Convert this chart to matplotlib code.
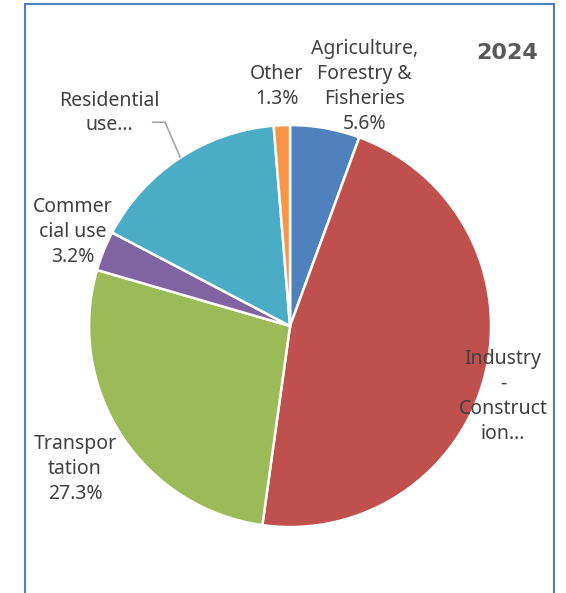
import numpy as np
import matplotlib.pyplot as plt
from matplotlib.patches import Rectangle

plt.rcParams['font.family'] = ['Noto Sans', 'DejaVu Sans']

sectors = ['Agriculture,\nForestry &\nFisheries', 'Industry\n-\nConstruct\nion…',
           'Transpor\ntation', 'Commer\ncial use', 'Residential\nuse…', 'Other']
shares = [5.6, 46.6, 27.3, 3.2, 16.0, 1.3]
colors = ['#4F81BD', '#C0504D', '#9BBB59', '#8064A2', '#4BACC6', '#F79646']
show_pct = [True, False, True, True, False, True]
# label centres, in pie-radius units from the centre
label_pos = [(0.37, 1.19), (1.06, -0.35), (-1.07, -0.71), (-1.08, 0.47), (-0.90, 1.06), (-0.065, 1.19)]
year = '2024'

fig = plt.figure(figsize=(5.66, 5.93), dpi=100)
ax = fig.add_axes([0, 0, 1, 1])

wedges, _ = ax.pie(shares, colors=colors, startangle=90, counterclock=False,
                   radius=1.0, wedgeprops=dict(edgecolor='white', linewidth=1.8))

for name, val, pct, (lx, ly) in zip(sectors, shares, show_pct, label_pos):
    txt = name + ('\n%.1f%%' % val if pct else '')
    ax.text(lx, ly, txt, ha='center', va='center', fontsize=14,
            color='#404040', linespacing=1.33)

# leader line for the residential label
ax.plot([-0.683, -0.622, -0.547], [1.014, 1.014, 0.841], color='#A6A6A6', lw=1.2)

ax.text(1.08, 1.36, year, ha='center', va='center', fontsize=16,
        fontweight='bold', family='DejaVu Sans', color='#595959')

# chart frame
ax.add_patch(Rectangle((-1.318, -1.45), 2.63, 3.05, fill=False,
                       edgecolor='#4F81BD', lw=1.5, clip_on=False))

ax.set_xlim(-1.443, 1.373)
ax.set_ylim(-1.328, 1.622)
ax.set_aspect('equal')
ax.axis('off')

fig.savefig('out.png', dpi=100)
